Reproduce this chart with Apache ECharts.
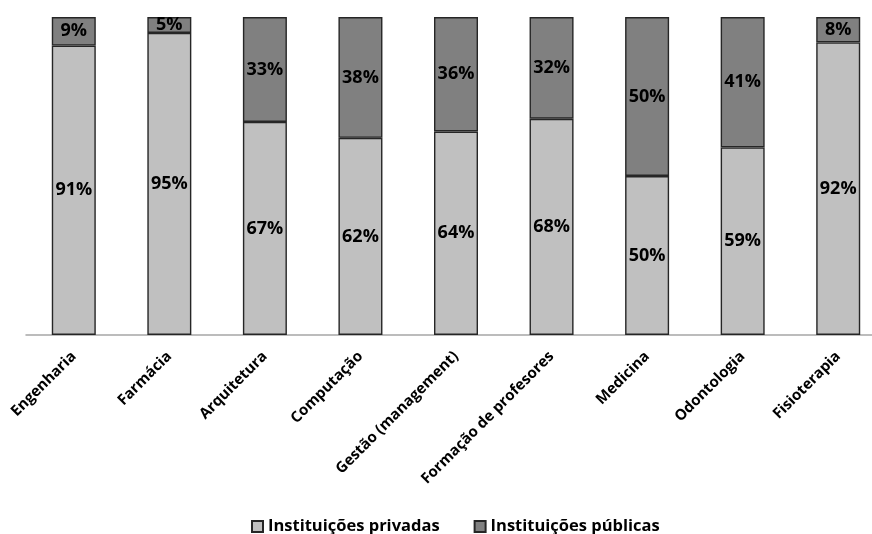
<!DOCTYPE html>
<html>
<head>
<meta charset="utf-8">
<script src="https://cdn.jsdelivr.net/npm/echarts@6/dist/echarts.min.js"></script>
<style>
  html, body { margin: 0; padding: 0; background: #fff; }
  #chart { width: 872px; height: 534px; }
</style>
</head>
<body>
<div id="chart"></div>
<script>
// Courses
const categories = ['Engenharia', 'Farmácia', 'Arquitetura', 'Computação', 'Gestão (management)',
  'Formação de profesores', 'Medicina', 'Odontologia', 'Fisioterapia'];
// Share of enrolments (%)
const privadas = [91, 95, 67, 62, 64, 68, 50, 59, 92];
const publicas = [9, 5, 33, 38, 36, 32, 50, 41, 8];

const FONT = '"Open Sans", sans-serif';
const chart = echarts.init(document.getElementById('chart'));

const labelStyle = {
  show: true,
  position: 'inside',
  formatter: p => p.value + '%',
  fontFamily: FONT,
  fontWeight: 'bold',
  fontSize: 18,
  color: '#000'
};

chart.setOption({
  animation: false,
  // plot area runs past the right edge of the canvas
  grid: { left: 26, width: 860, top: 17, height: 318, outerBoundsMode: 'none' },
  legend: {
    left: 246,
    top: 513,
    itemWidth: 11,
    itemHeight: 11,
    itemGap: 34,
    textStyle: { fontFamily: FONT, fontWeight: 'bold', fontSize: 16.5, color: '#000' },
    data: [
      { name: 'Instituições privadas', icon: 'rect' },
      { name: 'Instituições públicas', icon: 'rect' }
    ]
  },
  xAxis: {
    type: 'category',
    data: categories,
    axisLine: { lineStyle: { color: '#a6a6a6', width: 1.5 } },
    axisTick: { show: false },
    axisLabel: {
      rotate: 45,
      interval: 0,
      margin: 19,
      fontFamily: FONT,
      fontWeight: 'bold',
      fontSize: 15,
      color: '#000'
    }
  },
  yAxis: { type: 'value', min: 0, max: 100, show: false },
  series: [
    {
      name: 'Instituições privadas',
      type: 'bar',
      stack: 'total',
      barWidth: 44,
      data: privadas,
      itemStyle: { color: '#c0c0c0', borderColor: '#262626', borderWidth: 1.4 },
      label: labelStyle
    },
    {
      name: 'Instituições públicas',
      type: 'bar',
      stack: 'total',
      barWidth: 44,
      data: publicas,
      itemStyle: { color: '#808080', borderColor: '#262626', borderWidth: 1.4 },
      label: labelStyle
    }
  ]
});
</script>
</body>
</html>
